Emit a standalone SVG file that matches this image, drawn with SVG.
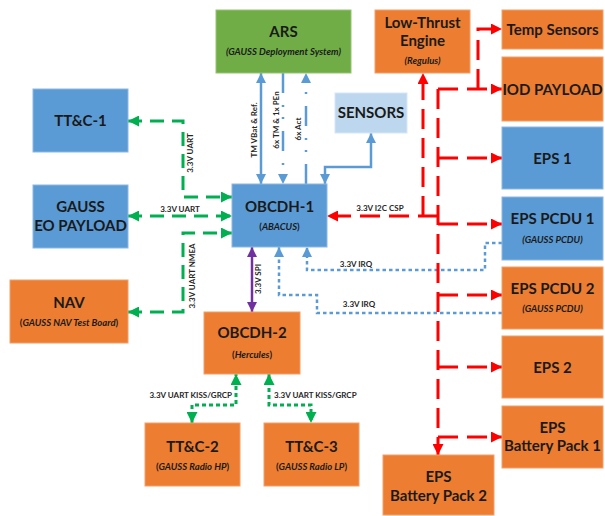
<svg xmlns="http://www.w3.org/2000/svg" width="605" height="516" viewBox="0 0 605 516">
<style>
.box{stroke-width:1}
.blue{fill:#5B9BD5;stroke:#8DB8E2}
.orange{fill:#ED7D31;stroke:#F4A06A}
.green{fill:#70AD47;stroke:#95C477}
.lblue{fill:#BDD7EE;stroke:#D6E6F5}
.t{font-family:Lato,"Liberation Sans",sans-serif;font-weight:bold;font-size:15px;fill:#1a1a1a;text-anchor:middle}
.s{font-family:Lato,"Liberation Sans",sans-serif;font-weight:bold;font-style:italic;font-size:9.5px;fill:#1a1a1a;text-anchor:middle}
.u{font-style:normal}
.l{font-family:Lato,"Liberation Sans",sans-serif;font-weight:bold;font-size:8px;fill:#262626;text-anchor:middle}
.c{fill:none}
.gd{stroke:#00B050;stroke-width:3;stroke-dasharray:14 8}
.gs{stroke:#00B050;stroke-width:3;stroke-dasharray:4 3}
.rd{stroke:#FF0000;stroke-width:3;stroke-dasharray:20 9}
.bs{stroke:#5B9BD5;stroke-width:2.5}
.bdd{stroke:#5B9BD5;stroke-width:2.5;stroke-dasharray:20 12 2 10 2 12}
.bdot{stroke:#5B9BD5;stroke-width:2.5;stroke-dasharray:3.5 3}
.ps{stroke:#7030A0;stroke-width:2.5}
</style>
<defs>
<marker id="ag" viewBox="0 0 10 10" refX="10" refY="5" markerUnits="userSpaceOnUse" markerWidth="12" markerHeight="11" orient="auto-start-reverse"><path d="M0,0 L10,5 L0,10 z" fill="#00B050"/></marker>
<marker id="ar" viewBox="0 0 10 10" refX="10" refY="5" markerUnits="userSpaceOnUse" markerWidth="12" markerHeight="11" orient="auto-start-reverse"><path d="M0,0 L10,5 L0,10 z" fill="#FF0000"/></marker>
<marker id="ab" viewBox="0 0 10 10" refX="10" refY="5" markerUnits="userSpaceOnUse" markerWidth="10" markerHeight="10" orient="auto-start-reverse"><path d="M0,0 L10,5 L0,10 z" fill="#5B9BD5"/></marker>
<marker id="ap" viewBox="0 0 10 10" refX="10" refY="5" markerUnits="userSpaceOnUse" markerWidth="10" markerHeight="10" orient="auto-start-reverse"><path d="M0,0 L10,5 L0,10 z" fill="#7030A0"/></marker>
</defs>

<g id="connectors">
<!-- green UART -->
<path class="c gd" d="M128,121 H183 V197 H232" marker-start="url(#ag)" marker-end="url(#ag)"/>
<path class="c gd" d="M128,216 H232" marker-start="url(#ag)" marker-end="url(#ag)"/>
<path class="c gd" d="M128,312 H183 V233 H232" marker-start="url(#ag)" marker-end="url(#ag)"/>
<text class="l" transform="translate(192.5,153) rotate(-90)">3.3V UART</text>
<text class="l" x="180" y="212">3.3V UART</text>
<text class="l" transform="translate(194.5,276) rotate(-90)">3.3V UART NMEA</text>
<!-- green KISS -->
<path class="c gs" d="M192,423 V405 H236 V374" marker-start="url(#ag)" marker-end="url(#ag)"/>
<path class="c gs" d="M269,374 V405 H311 V423" marker-start="url(#ag)" marker-end="url(#ag)"/>
<text class="l" x="232" y="398" style="text-anchor:end">3.3V UART KISS/GRCP</text>
<text class="l" x="274" y="398" style="text-anchor:start">3.3V UART KISS/GRCP</text>
<!-- purple SPI -->
<path class="c ps" d="M252,247 V312" marker-start="url(#ap)" marker-end="url(#ap)"/>
<text class="l" transform="translate(261,279) rotate(-90)">3.3V SPI</text>
<!-- blue ARS -->
<path class="c bs" d="M261,73 V184" marker-start="url(#ab)" marker-end="url(#ab)"/>
<text class="l" transform="translate(256.5,130) rotate(-90)">TM VBat &amp; Ref.</text>
<path class="c bdd" d="M283,73 V184" marker-end="url(#ab)"/>
<text class="l" transform="translate(278.5,120) rotate(-90)">6x TM &amp; 1x PEn</text>
<path class="c bdd" d="M306,184 V73" marker-end="url(#ab)"/>
<text class="l" transform="translate(300.5,129) rotate(-90)">6x Act</text>
<!-- blue sensors -->
<path class="c bs" d="M325,184 V167 H371 V133" marker-start="url(#ab)" marker-end="url(#ab)"/>
<!-- blue IRQ -->
<path class="c bdot" d="M502,243 H485 V270 H307 V247" marker-end="url(#ab)"/>
<path class="c bdot" d="M502,313 H317 V295 H279 V247" marker-end="url(#ab)"/>
<text class="l" x="356" y="267">3.3V IRQ</text>
<text class="l" x="359" y="307">3.3V IRQ</text>
<!-- red power / I2C -->
<path class="c rd" d="M438,216 H327" marker-end="url(#ar)"/>
<path class="c rd" d="M423,216 V73" marker-end="url(#ar)"/>
<text class="l" x="380" y="211">3.3V I2C CSP</text>
<path class="c rd" d="M438,89 V455" marker-end="url(#ar)"/>
<path class="c rd" d="M438,89 H502" marker-end="url(#ar)"/>
<path class="c rd" d="M478,89 V29 H502" marker-end="url(#ar)"/>
<path class="c rd" d="M438,158 H502" marker-end="url(#ar)"/>
<path class="c rd" d="M438,224 H502" marker-end="url(#ar)"/>
<path class="c rd" d="M438,295 H502" marker-end="url(#ar)"/>
<path class="c rd" d="M438,367 H502" marker-end="url(#ar)"/>
<path class="c rd" d="M438,437 H502" marker-end="url(#ar)"/>
</g>

<g id="ars"><rect class="box green" x="216" y="10" width="135" height="63"/><text class="t" x="283.5" y="37">ARS</text><text class="s" x="283.5" y="55">(GAUSS Deployment System)</text></g>
<g id="lte"><rect class="box orange" x="375" y="10" width="95" height="63"/><text class="t" x="422.5" y="28">Low-Thrust</text><text class="t" x="422.5" y="46">Engine</text><text class="s" x="422.5" y="64">(Regulus)</text></g>
<g id="temp"><rect class="box orange" x="502" y="10" width="101" height="39"/><text class="t" x="552.5" y="35">Temp Sensors</text></g>
<g id="iod"><rect class="box orange" x="502" y="57" width="101" height="64"/><text class="t" x="552.5" y="95">IOD PAYLOAD</text></g>
<g id="eps1"><rect class="box blue" x="502" y="127" width="101" height="62"/><text class="t" x="552.5" y="164">EPS 1</text></g>
<g id="pcdu1"><rect class="box blue" x="502" y="197" width="101" height="63"/><text class="t" x="552.5" y="224">EPS PCDU 1</text><text class="s" x="552.5" y="243">(GAUSS PCDU)</text></g>
<g id="pcdu2"><rect class="box orange" x="502" y="267" width="101" height="62"/><text class="t" x="552.5" y="294">EPS PCDU 2</text><text class="s" x="552.5" y="312">(GAUSS PCDU)</text></g>
<g id="eps2"><rect class="box orange" x="502" y="336" width="101" height="62"/><text class="t" x="552.5" y="373">EPS 2</text></g>
<g id="bp1"><rect class="box orange" x="502" y="406" width="101" height="62"/><text class="t" x="552.5" y="433">EPS</text><text class="t" x="552.5" y="451">Battery Pack 1</text></g>
<g id="bp2"><rect class="box orange" x="383" y="455" width="111" height="60"/><text class="t" x="438.5" y="482">EPS</text><text class="t" x="438.5" y="501">Battery Pack 2</text></g>
<g id="ttc1"><rect class="box blue" x="33" y="89" width="95" height="63"/><text class="t" x="80.5" y="126">TT&amp;C-1</text></g>
<g id="eo"><rect class="box blue" x="33" y="185" width="95" height="63"/><text class="t" x="80.5" y="212">GAUSS</text><text class="t" x="80.5" y="231">EO PAYLOAD</text></g>
<g id="nav"><rect class="box orange" x="10" y="280" width="118" height="63"/><text class="t" x="69" y="308">NAV</text><text class="s" x="69" y="326"><tspan class="u">(</tspan>GAUSS NAV Test Board<tspan class="u">)</tspan></text></g>
<g id="obcdh1"><rect class="box blue" x="232" y="184" width="95" height="63"/><text class="t" x="279.5" y="212">OBCDH-1</text><text class="s" x="279.5" y="230"><tspan class="u">(</tspan>ABACUS<tspan class="u">)</tspan></text></g>
<g id="sensors"><rect class="box lblue" x="335" y="93" width="72" height="40"/><text class="t" x="371" y="118">SENSORS</text></g>
<g id="obcdh2"><rect class="box orange" x="204" y="312" width="96" height="62"/><text class="t" x="252" y="338">OBCDH-2</text><text class="s" x="252" y="358"><tspan class="u">(</tspan>Hercules<tspan class="u">)</tspan></text></g>
<g id="ttc2"><rect class="box orange" x="145" y="423" width="95" height="63"/><text class="t" x="192.5" y="452">TT&amp;C-2</text><text class="s" x="192.5" y="470"><tspan class="u">(</tspan>GAUSS Radio HP<tspan class="u">)</tspan></text></g>
<g id="ttc3"><rect class="box orange" x="264" y="423" width="95" height="63"/><text class="t" x="311.5" y="452">TT&amp;C-3</text><text class="s" x="311.5" y="470"><tspan class="u">(</tspan>GAUSS Radio LP<tspan class="u">)</tspan></text></g>
</svg>
